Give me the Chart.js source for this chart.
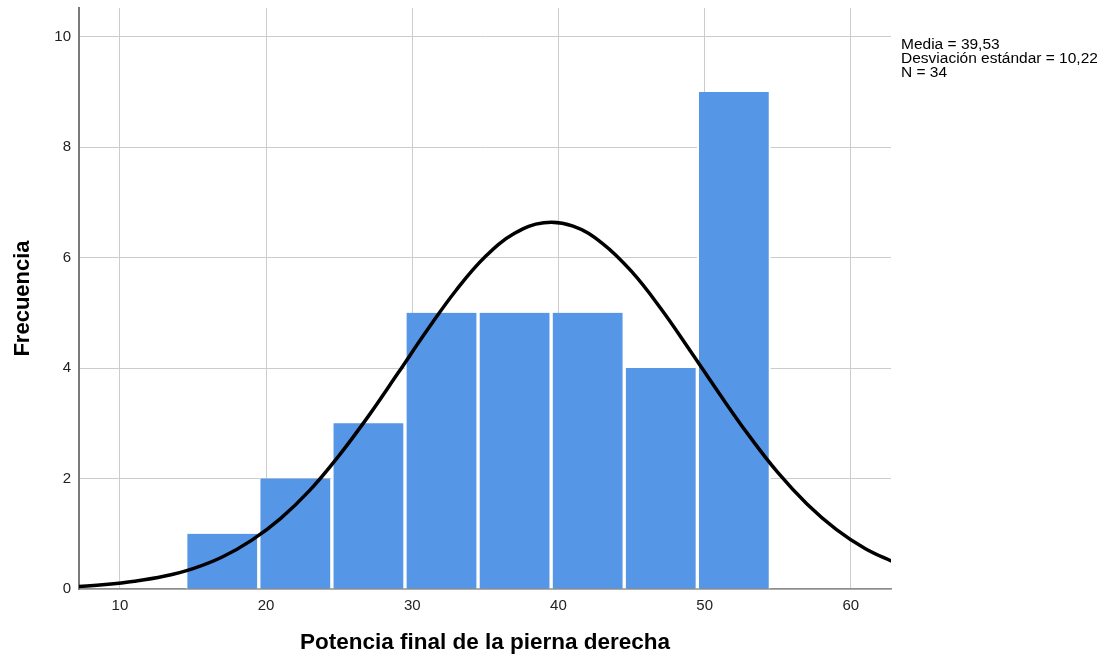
<!DOCTYPE html>
<html>
<head>
<meta charset="utf-8">
<title>Histograma</title>
<script src="https://cdn.jsdelivr.net/npm/chart.js@4.4.1/dist/chart.umd.min.js"></script>
<style>
    body { margin: 0; background: #fff; }
    #wrap { width: 1111px; height: 657px; position: relative; }
</style>
</head>
<body>
<div id="wrap"><canvas id="myChart"></canvas></div>
<script>
// Histogram bins (centre of each 5-unit bin) and their counts
var binCenters = [17, 22, 27, 32, 37, 42, 47, 52];
var counts = [1, 2, 3, 5, 5, 5, 4, 9];

// Normal curve
var curveX = [7, 9, 11, 13, 15, 17, 19, 21, 23, 25, 27, 29, 31, 33, 35, 37, 39, 41, 43, 45, 47, 49, 51, 53, 55, 57, 59, 61, 63];
var curveY = [0.04, 0.08, 0.14, 0.23, 0.37, 0.58, 0.88, 1.28, 1.79, 2.42, 3.13, 3.90, 4.68, 5.41, 6.02, 6.44, 6.63, 6.57, 6.26, 5.75, 5.08, 4.32, 3.54, 2.79, 2.11, 1.54, 1.08, 0.73, 0.48];

var xTicks = [10, 20, 30, 40, 50, 60];
var yTicks = [0, 2, 4, 6, 8, 10];

var statsLines = ['Media = 39,53', 'Desviación estándar = 10,22', 'N = 34'];

var xTitle = 'Potencia final de la pierna derecha';
var yTitle = 'Frecuencia';

var fontName = '"Liberation Sans", Arial, sans-serif';

// stats text at the top right, outside the plot
var statsBox = {
    id: 'statsBox',
    afterDraw: function (chart) {
        var c = chart.ctx;
        c.save();
        c.fillStyle = '#000';
        c.font = '15.5px ' + fontName;
        c.textAlign = 'left';
        c.textBaseline = 'alphabetic';
        var x = chart.chartArea.right + 10;
        for (var i = 0; i < statsLines.length; i++) {
            c.fillText(statsLines[i], x, 49 + i * 14);
        }
        c.restore();
    }
};

var ctx = document.getElementById('myChart').getContext('2d');
var myChart = new Chart(ctx, {
    type: 'bar',
    data: {
        datasets: [{
            type: 'line',
            label: 'Normal',
            data: curveX.map(function (x, i) { return { x: x, y: curveY[i] }; }),
            borderColor: '#000',
            borderWidth: 3.5,
            pointRadius: 0,
            tension: 0.4,
            fill: false,
            order: 0
        }, {
            label: 'Frecuencia',
            data: binCenters.map(function (x, i) { return { x: x, y: counts[i] }; }),
            backgroundColor: '#5596e6',
            borderColor: '#ffffff',
            borderWidth: { left: 2, right: 2, top: 0, bottom: 0 },
            borderSkipped: false,
            barPercentage: 1,
            categoryPercentage: 1,
            order: 1
        }]
    },
    options: {
        responsive: true,
        maintainAspectRatio: false,
        animation: false,
        layout: { padding: { left: 0, top: 8, right: 220, bottom: 0 } },
        plugins: {
            legend: { display: false },
            tooltip: { enabled: false }
        },
        scales: {
            x: {
                type: 'linear',
                min: 7.2,
                max: 62.75,
                offset: false,
                afterBuildTicks: function (scale) {
                    scale.ticks = xTicks.map(function (v) { return { value: v }; });
                },
                afterFit: function (scale) { scale.height = 68; },
                ticks: {
                    font: { family: fontName, size: 15 },
                    color: '#222',
                    padding: 8
                },
                grid: { color: '#cccccc', drawTicks: false, offset: false },
                border: { color: '#8c8c8c', width: 1.5 },
                title: {
                    display: true,
                    text: xTitle,
                    color: '#000',
                    font: { family: fontName, size: 22.5, weight: 'bold' },
                    padding: { top: 0, bottom: 1 }
                }
            },
            y: {
                min: 0,
                max: 10.52,
                afterBuildTicks: function (scale) {
                    scale.ticks = yTicks.map(function (v) { return { value: v }; });
                },
                afterFit: function (scale) {
                    scale.width = 79;
                    scale.paddingTop = 0;
                    scale.paddingBottom = 0;
                },
                ticks: {
                    font: { family: fontName, size: 15 },
                    color: '#222',
                    padding: 8
                },
                grid: { color: '#cccccc', drawTicks: false },
                border: { color: '#7a7a7a', width: 2 },
                title: {
                    display: true,
                    text: yTitle,
                    color: '#000',
                    font: { family: fontName, size: 22, weight: 'bold' },
                    padding: { top: 10, bottom: 0 }
                }
            }
        }
    },
    plugins: [statsBox]
});
</script>
</body>
</html>
